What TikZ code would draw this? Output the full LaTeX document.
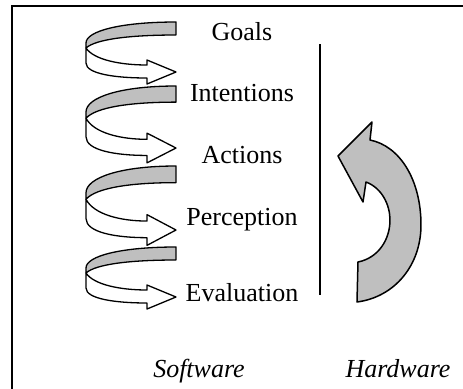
\documentclass[tikz,border=0pt]{standalone}
\usepackage{fontspec}
\setmainfont{Liberation Serif}
\usepackage{xcolor}
\begin{document}
\begin{tikzpicture}[x=0.5pt,y=-0.5pt,
  helixband/.style={draw,line width=0.65pt,line join=round},
  stagetext/.style={anchor=base,font=\fontsize{13}{15}\selectfont},
  sidetext/.style={anchor=base,font=\fontsize{13}{15}\selectfont\itshape}]
\useasboundingbox (0,0) rectangle (463,388);
\clip (0,0) rectangle (463,388);
\draw[line width=1pt] (12,6) rectangle (480,400);
% spiral turns
\foreach \ytop/\s in {22/1,86/1.24,166/1.28,247/1}{
\begin{scope}[shift={(176,\ytop)},yscale=\s]
	\filldraw[helixband,fill=black!25] (0,0) .. controls (-55,0) and (-90,9) .. (-90,21) -- (-90,26) .. controls (-80,17) and (-45,13) .. (0,13) -- cycle;
	\filldraw[helixband,fill=white] (-90,26) .. controls (-82,38) and (-55,43) .. (-29,43) -- (-29,38) -- (0,50) -- (-29,62) -- (-29,56) .. controls (-60,56) and (-90,52) .. (-90,41) -- cycle;
\end{scope}}
	\node[stagetext] at (242,40) (goals) {Goals};
	\node[stagetext] at (242,101) (intentions) {Intentions};
	\node[stagetext] at (242,163) (actions) {Actions};
	\node[stagetext] at (242,225) (perception) {Perception};
	\node[stagetext] at (242,301) (evaluation) {Evaluation};
	\node[sidetext] at (199,377) (software) {Software};
	\node[sidetext] at (398,377) (hardware) {Hardware};
% divider
	\coordinate (divtop) at (320,44);
	\coordinate (divbot) at (320,295);
	\draw[line width=0.65pt] (divtop) -- (divbot);
% hardware arrow
	\filldraw[helixband,line width=0.75pt,fill=black!25] (338,156) -- (372,122) -- (370,140) .. controls (400,146) and (421,180) .. (421,225) .. controls (421,265) and (395,297) .. (357,302) -- (358,262) .. controls (378,258) and (390,240) .. (390,220) .. controls (390,205) and (382,188) .. (366,182) -- (363,202) -- cycle;
\end{tikzpicture}
\end{document}
